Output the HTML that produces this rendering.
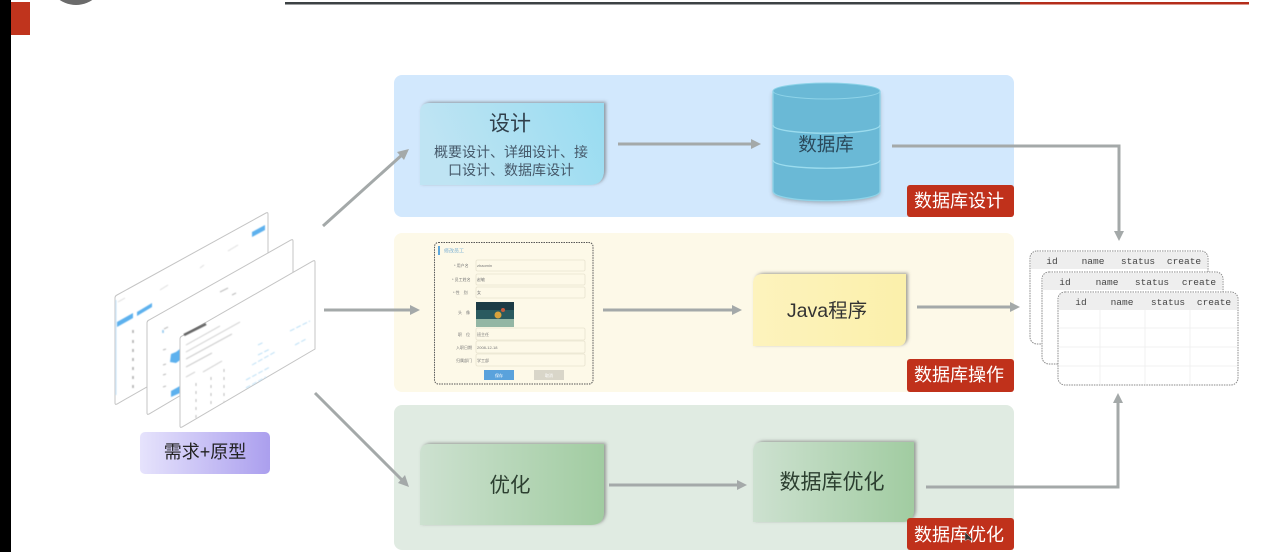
<!DOCTYPE html>
<html lang="zh"><head><meta charset="utf-8"><style>
html,body{margin:0;padding:0;background:#fff;width:1266px;height:552px;overflow:hidden}
svg{display:block}
text{font-family:"Liberation Sans","Noto Sans CJK SC",sans-serif}
.m{font-family:"Liberation Mono",monospace;font-size:9.5px;fill:#444;text-anchor:middle}
.b{font-size:18px;fill:#fff;text-anchor:middle}
.t{fill:#2f3e3f;text-anchor:middle}
.f{font-size:4px;fill:#777}
.a{stroke:#a4a9a9;stroke-width:3;fill:none}
.ah{fill:#a4a9a9}
.g{stroke:#f0f0f0;stroke-width:1}
</style></head><body>
<svg width="1266" height="552" viewBox="0 0 1266 552" xmlns="http://www.w3.org/2000/svg">
<defs>
<linearGradient id="gb" x1="0" x2="1" y1="0.2" y2="0"><stop offset="0" stop-color="#bfe4f3"/><stop offset="1" stop-color="#98dcf1"/></linearGradient>
<linearGradient id="gg" x1="0" x2="1"><stop offset="0" stop-color="#cde1d0"/><stop offset="1" stop-color="#a1cca1"/></linearGradient>
<linearGradient id="gy" x1="0" x2="1"><stop offset="0" stop-color="#fdf3bd"/><stop offset="1" stop-color="#fbf0ab"/></linearGradient>
<linearGradient id="gp" x1="0" x2="1"><stop offset="0" stop-color="#e6e3fc"/><stop offset="1" stop-color="#ab9fee"/></linearGradient>
<filter id="sh" x="-10%" y="-10%" width="120%" height="125%"><feDropShadow dx="2" dy="-1" stdDeviation="1.500" flood-color="#555" flood-opacity=".55"/></filter>
<filter id="sc" x="-10%" y="-10%" width="120%" height="120%"><feDropShadow dx="0" dy="2" stdDeviation="2" flood-color="#444" flood-opacity=".4"/></filter>
<filter id="bl"><feGaussianBlur stdDeviation=".35"/></filter>
<filter id="bl2"><feGaussianBlur stdDeviation=".5"/></filter>
</defs>
<rect width="1266" height="552" fill="#fff"/>
<rect x="0" y="0" width="11" height="552" fill="#000"/>
<rect x="11" y="2" width="19" height="33" fill="#c0341d"/>
<circle cx="76" cy="-24" r="29" fill="#6b6b6b"/>
<rect x="285" y="2" width="735" height="2.500" fill="#3c4244"/>
<rect x="1020" y="2" width="229" height="2.500" fill="#b42d1a"/>

<!-- panels -->
<rect x="394" y="75" width="620" height="142" rx="8" fill="#d2e8fd"/>
<rect x="394" y="233" width="620" height="159" rx="8" fill="#fdf9e8"/>
<rect x="394" y="405" width="620" height="145" rx="8" fill="#e0ebe2"/>

<!-- prototype pages -->
<g stroke="#c4c4c4" stroke-width="1" fill="#fff">
<path d="M115 298 Q115 296 117 295 L266 213 Q268 212 268 214 L268 318 L117 404 Q115 405 115 403Z"/>
<g filter="url(#bl2)">
<path d="M252 232 L265 225 V230 L252 237Z" fill="#5db1ee" stroke="none"/>
<path d="M137 312 L152 303 V307 L137 316Z" fill="#5db1ee" stroke="none"/>
<path d="M117 322 L133 313 V318 L117 327Z" fill="#5db1ee" stroke="none"/>
<path d="M133 330 v3M133 340 v3M133 349 v3M133 358 v3M133 367 v3M133 376 v3M133 385 v3" stroke="#aaa" stroke-width="1.500" fill="none"/>
<path d="M118 302 L125 298M160 290 L168 285M200 268 L204 265M228 251 L238 245M226 283 L230 281" stroke="#ddd" stroke-width="1" fill="none"/>
<path d="M116 300 V395" stroke="#bfe0f6" stroke-width="1" fill="none"/>
</g>
<path d="M147 323 Q147 321 149 320 L291 240 Q293 239 293 241 L293 329 L149 414 Q147 415 147 413Z"/>
<g filter="url(#bl2)">
<path d="M170 362 L171 354 L176 352 L180 349 L183 348 V358 L176 363Z" fill="#5db1ee" stroke="none"/>
<path d="M171 391 L180 386 V393 L171 397Z" fill="#5db1ee" stroke="none"/>
<path d="M163 330 v3" stroke="#8cc4ec" stroke-width="1.500" fill="none"/>
<path d="M164 329 L168 327M163 350 l3 -1M163 365 l3 -1M163 375 l3 -1M163 387 l3 -1M220 292 l8 -4M232 295 l4 -2" stroke="#bbb" stroke-width="1" fill="none"/>
</g>
<path d="M180 339 Q180 337 182 336 L313 261 Q315 260 315 262 L315 349 L182 427 Q180 428 180 426Z"/>
</g>
<g filter="url(#bl2)" fill="none">
<path d="M184 335 L206 324" stroke="#666" stroke-width="2.500"/>
<g stroke="#ccc" stroke-width="1">
<path d="M186 345 L220 326M186 352 L240 322"/>
<path d="M186 359 L232 334M186 367 L212 353"/>
<path d="M186 377 L195 372M203 372 L222 361"/>
</g>
<g stroke="#bbb" stroke-width="1" stroke-dasharray="3 5">
<path d="M196 383 V418"/><path d="M211 377 V408"/><path d="M224 369 V402"/>
</g>
<g stroke="#bde0f6" stroke-width="1" stroke-dasharray="5 2">
<path d="M258 345 L264 342M252 365 L275 352M246 380 L270 367M246 388 L266 377M290 331 L310 321M295 345 L306 339M258 355 L270 349"/>
</g>
</g>
<rect x="140" y="432" width="130" height="42" rx="5" fill="url(#gp)"/>
<text x="205" y="458" font-size="18" fill="#222" text-anchor="middle">需求+原型</text>

<!-- design -->
<path d="M430 103 H604 V170 Q604 185 589 185 H420 V113 Q420 103 430 103Z" fill="url(#gb)" filter="url(#sh)"/>
<text class="t" x="510" y="130.500" font-size="21" style="fill:#2f3e4a">设计</text>
<text class="t" x="511" y="157" font-size="14" style="fill:#46596a">概要设计、详细设计、接</text>
<text class="t" x="511" y="175" font-size="14" style="fill:#46596a">口设计、数据库设计</text>

<!-- cylinder -->
<g filter="url(#sc)">
<path d="M773 91 V191 C773 204 880 204 880 191 V91Z" fill="#6ab9d6"/>
</g>
<ellipse cx="826.500" cy="91" rx="53.500" ry="8" fill="#6ab9d6" stroke="#8ed3e8" stroke-width="1"/>
<path d="M773 91 V191 C773 204 880 204 880 191 V91" fill="none" stroke="#8ed3e8" stroke-width="1.300"/>
<path d="M773 125 C773 136 880 136 880 125" fill="none" stroke="#9cdcee" stroke-width="1.300"/>
<path d="M773 160 C773 171 880 171 880 160" fill="none" stroke="#9cdcee" stroke-width="1.300"/>
<text class="t" x="826" y="151" font-size="18.500" style="fill:#2b4a5c">数据库</text>
<rect x="907" y="185" width="107" height="32" rx="3" fill="#c0311b"/>
<text class="b" x="959" y="207">数据库设计</text>

<!-- form -->
<rect x="434.500" y="242.500" width="158.500" height="141.500" rx="4" fill="none" stroke="#555" stroke-width="1" stroke-dasharray="1.500 1"/>
<g filter="url(#bl)">
<rect x="438" y="246" width="2" height="9" fill="#5da8dc"/>
<text x="444" y="252.500" font-size="5" fill="#7fb2d4">修改员工</text>
<g fill="#fdf9e8" stroke="#e8e3d0" stroke-width=".8">
<rect x="476" y="260" width="109" height="11" rx="1.500"/>
<rect x="476" y="274" width="109" height="11" rx="1.500"/>
<rect x="476" y="287" width="109" height="11" rx="1.500"/>
<rect x="476" y="328" width="109" height="12" rx="1.500"/>
<rect x="476" y="341" width="109" height="12" rx="1.500"/>
<rect x="476" y="354" width="109" height="12" rx="1.500"/>
</g>
<text class="f" x="454" y="267">* 用户名</text>
<text class="f" x="477" y="267">zhaomin</text>
<text class="f" x="452" y="281">* 员工姓名</text>
<text class="f" x="477" y="281">赵敏</text>
<text class="f" x="453" y="294">* 性　别</text>
<text class="f" x="477" y="294">女</text>
<text class="f" x="458" y="314">头　像</text>
<text class="f" x="458" y="336">职　位</text>
<text class="f" x="477" y="336">班主任</text>
<text class="f" x="456" y="349">入职日期</text>
<text class="f" x="477" y="349">2008-12-18</text>
<text class="f" x="456" y="362">归属部门</text>
<text class="f" x="477" y="362">学工部</text>
<rect x="476" y="302" width="38" height="25" fill="#2c5a5f"/>
<rect x="476" y="302" width="38" height="8" fill="#1a3a45"/>
<rect x="476" y="319" width="38" height="8" fill="#93b6a4"/>
<circle cx="498" cy="315" r="3.500" fill="#d8a23a"/><circle cx="503" cy="310" r="2" fill="#c45a3a"/>
<rect x="484" y="370" width="30" height="10" fill="#5aa2dc"/>
<rect x="534" y="370" width="30" height="10" fill="#d9d6c9"/>
<text x="499" y="377" font-size="4" fill="#fff" text-anchor="middle">保存</text>
<text x="549" y="377" font-size="4" fill="#fff" text-anchor="middle">取消</text>
</g>

<!-- java -->
<path d="M763 274 H906 V337 Q906 346 897 346 H753 V284 Q753 274 763 274Z" fill="url(#gy)" filter="url(#sh)"/>
<text class="t" x="827" y="317" font-size="19.500" style="fill:#333">Java程序</text>
<rect x="907" y="359" width="107" height="33" rx="3" fill="#c0311b"/>
<text class="b" x="959" y="381">数据库操作</text>

<!-- optimize -->
<path d="M430 444 H604 V512 Q604 525 591 525 H420 V454 Q420 444 430 444Z" fill="url(#gg)" filter="url(#sh)"/>
<text class="t" x="510" y="492" font-size="20.500" style="fill:#2c3f30">优化</text>
<path d="M763 442 H914 V510 Q914 522 902 522 H753 V452 Q753 442 763 442Z" fill="url(#gg)" filter="url(#sh)"/>
<text class="t" x="832" y="489" font-size="21" style="fill:#2c3f30">数据库优化</text>
<rect x="907" y="518" width="107" height="32" rx="3" fill="#c0311b"/>
<text class="b" x="959" y="541">数据库优化</text>
<path d="M965 532 L965 541 L968 539 L971 541 L972 539 Z" fill="#333" stroke="#ddd" stroke-width=".4"/>

<!-- tables -->
<g>
<rect x="1030" y="251" width="178" height="93" rx="7" fill="#fff" stroke="#888" stroke-width="1" stroke-dasharray="1.500 1"/>
<path d="M1031 269 V258 Q1031 252 1037 252 H1201 Q1207 252 1207 258 V269Z" fill="#eee"/>
<text class="m" x="1052" y="264">id</text><text class="m" x="1093" y="264">name</text><text class="m" x="1138" y="264">status</text><text class="m" x="1184" y="264">create</text>
<rect x="1042" y="272" width="181" height="92" rx="7" fill="#fff" stroke="#888" stroke-width="1" stroke-dasharray="1.500 1"/>
<path d="M1043 290 V279 Q1043 273 1049 273 H1216 Q1222 273 1222 279 V290Z" fill="#eee"/>
<text class="m" x="1065" y="285">id</text><text class="m" x="1107" y="285">name</text><text class="m" x="1152" y="285">status</text><text class="m" x="1199" y="285">create</text>
<rect x="1058" y="292" width="180" height="93" rx="7" fill="#fff" stroke="#888" stroke-width="1" stroke-dasharray="1.500 1"/>
<path d="M1059 310 V299 Q1059 293 1065 293 H1231 Q1237 293 1237 299 V310Z" fill="#eee"/>
<text class="m" x="1081" y="305">id</text><text class="m" x="1122" y="305">name</text><text class="m" x="1168" y="305">status</text><text class="m" x="1214" y="305">create</text>
<path class="g" d="M1059 328 H1237M1059 347 H1237M1059 366 H1237M1100 310 V384M1145 310 V384M1190 310 V384"/>
</g>

<!-- arrows -->
<path class="a" d="M323 226 L403 154"/><path class="ah" d="M409 149 L404 160 L397 152Z"/>
<path class="a" d="M324 310 H412"/><path class="ah" d="M420 310 L410 305 V315Z"/>
<path class="a" d="M315 393 L402 480"/><path class="ah" d="M409 487 L398 483 L405 475Z"/>
<path class="a" d="M618 144 H753"/><path class="ah" d="M761 144 L751 139 V149Z"/>
<path class="a" d="M603 310 H734"/><path class="ah" d="M742 310 L732 305 V315Z"/>
<path class="a" d="M609 485 H739"/><path class="ah" d="M747 485 L737 480 V490Z"/>
<path class="a" d="M917 307 H1012"/><path class="ah" d="M1020 307 L1010 302 V312Z"/>
<path class="a" d="M892 146 H1119 V233"/><path class="ah" d="M1119 241 L1114 231 H1124Z"/>
<path class="a" d="M926 487 H1118 V401"/><path class="ah" d="M1118 393 L1113 403 H1123Z"/>
</svg>
</body></html>
